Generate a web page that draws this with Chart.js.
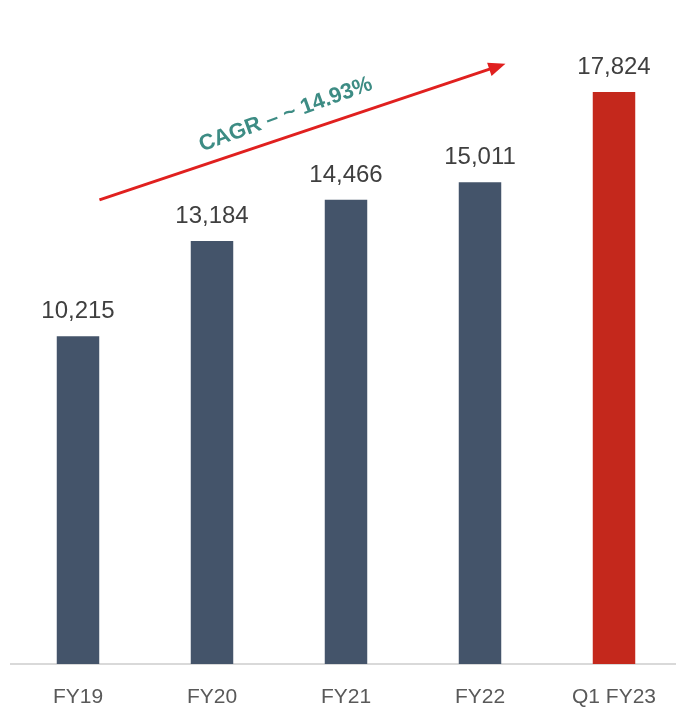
<!DOCTYPE html>
<html>
<head>
<meta charset="utf-8">
<script src="https://cdn.jsdelivr.net/npm/chart.js@4/dist/chart.umd.min.js"></script>
<style>
  html, body { margin: 0; padding: 0; background: #fff; overflow: hidden; }
  #wrap { width: 681px; height: 714px; position: relative; }
</style>
</head>
<body>
<div id="wrap"><canvas id="revChart"></canvas></div>
<script>
const categories = ['FY19', 'FY20', 'FY21', 'FY22', 'Q1 FY23'];
const values = [10215, 13184, 14466, 15011, 17824];
const barColors = ['#44546a', '#44546a', '#44546a', '#44546a', '#c4281c'];
const cagrText = 'CAGR – ~ 14.93%';
// arrow runs from (category index, value) to (category index, value)
const arrowFrom = [0.16, 14460];
const arrowTo = [3.19, 18700];

const fontFamily = '"Liberation Sans", Arial, sans-serif';

const xAt = (scale, idx) => {
  const i0 = Math.floor(idx);
  const a = scale.getPixelForTick(i0);
  const b = scale.getPixelForTick(i0 + 1);
  return a + (b - a) * (idx - i0);
};

const extrasPlugin = {
  id: 'extras',
  afterDatasetsDraw(chart) {
    const ctx = chart.ctx;
    const meta = chart.getDatasetMeta(0);
    const xs = chart.scales.x, ys = chart.scales.y;

    // value labels
    ctx.save();
    ctx.font = '24px ' + fontFamily;
    ctx.fillStyle = '#3f3f3f';
    ctx.textAlign = 'center';
    ctx.textBaseline = 'alphabetic';
    meta.data.forEach((bar, i) => {
      ctx.fillText(values[i].toLocaleString('en-US'), bar.x, bar.y - 18);
    });
    ctx.restore();

    // CAGR arrow
    const x1 = xAt(xs, arrowFrom[0]), y1 = ys.getPixelForValue(arrowFrom[1]);
    const x2 = xAt(xs, arrowTo[0]), y2 = ys.getPixelForValue(arrowTo[1]);
    const ang = Math.atan2(y2 - y1, x2 - x1);
    const headLen = 17, headW = 7;
    ctx.save();
    ctx.strokeStyle = '#e0201f';
    ctx.fillStyle = '#e0201f';
    ctx.lineWidth = 3;
    ctx.beginPath();
    ctx.moveTo(x1, y1);
    ctx.lineTo(x2 - headLen * Math.cos(ang) * 0.8, y2 - headLen * Math.sin(ang) * 0.8);
    ctx.stroke();
    ctx.translate(x2, y2);
    ctx.rotate(ang);
    ctx.beginPath();
    ctx.moveTo(0, 0);
    ctx.lineTo(-headLen, -headW);
    ctx.lineTo(-headLen, headW);
    ctx.closePath();
    ctx.fill();
    ctx.restore();

    // CAGR text
    const tx = xAt(xs, 1.55), ty = ys.getPixelForValue(17120);
    ctx.save();
    ctx.translate(tx, ty);
    ctx.rotate(-20 * Math.PI / 180);
    ctx.font = 'bold 22px ' + fontFamily;
    ctx.fillStyle = '#3d8c84';
    ctx.textAlign = 'center';
    ctx.textBaseline = 'middle';
    ctx.fillText(cagrText, 0, 0);
    ctx.restore();
  }
};

new Chart(document.getElementById('revChart'), {
  type: 'bar',
  data: {
    labels: categories,
    datasets: [{
      data: values,
      backgroundColor: barColors,
      barPercentage: 0.317,
      categoryPercentage: 1
    }]
  },
  options: {
    responsive: true,
    maintainAspectRatio: false,
    animation: false,
    layout: { padding: { left: 11, right: 0, top: 0, bottom: 0 } },
    plugins: { legend: { display: false }, tooltip: { enabled: false } },
    scales: {
      x: {
        grid: { display: false, drawTicks: false },
        border: { display: true, color: '#d9d9d9', width: 2 },
        ticks: { color: '#595959', font: { family: fontFamily, size: 21 }, padding: 21 },
        afterFit(scale) { scale.height = 50; }
      },
      y: {
        display: false,
        min: 0,
        max: 20690
      }
    }
  },
  plugins: [extrasPlugin]
});
</script>
</body>
</html>
